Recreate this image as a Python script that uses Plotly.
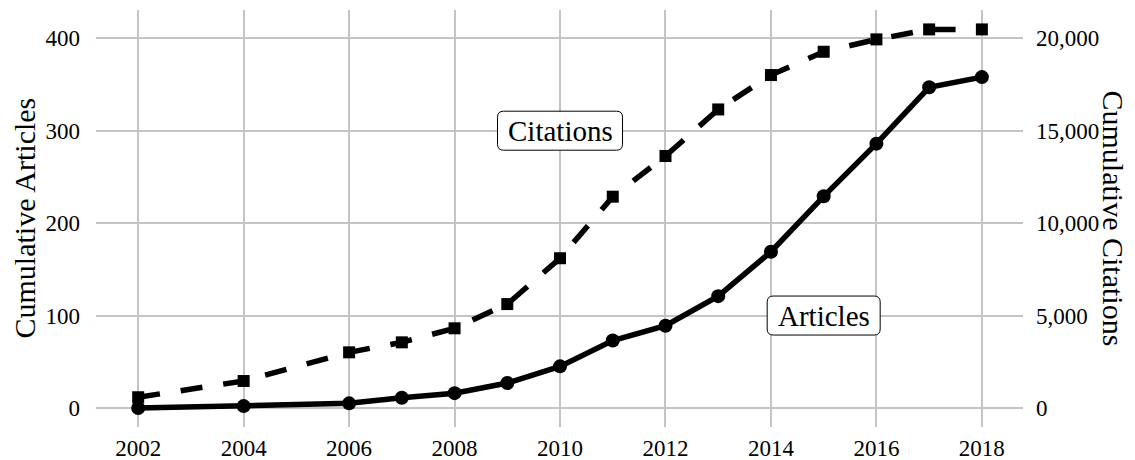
import plotly.graph_objects as go

years = [2002, 2004, 2006, 2007, 2008, 2009, 2010, 2011, 2012, 2013, 2014, 2015, 2016, 2017, 2018]
articles = [0, 2, 5, 11, 16, 27, 45, 73, 89, 121, 169, 229, 286, 347, 358]
citations = [580, 1460, 3010, 3550, 4310, 5620, 8100, 11430, 13630, 16150, 18010, 19270, 19940, 20480, 20480]

x_ticks = [2002, 2004, 2006, 2008, 2010, 2012, 2014, 2016, 2018]
left_ticks = [0, 100, 200, 300, 400]
right_ticks = [0, 5000, 10000, 15000, 20000]

FONT = "Liberation Serif, Times New Roman, serif"
GRID = "#c4c4c4"

fig = go.Figure()
fig.add_trace(go.Scatter(
    x=years, y=citations, yaxis="y2", mode="lines+markers", name="Citations",
    line=dict(color="black", width=5.5, dash="22px,21px"),
    marker=dict(symbol="square", size=12, color="black"),
))
fig.add_trace(go.Scatter(
    x=years, y=articles, yaxis="y", mode="lines+markers", name="Articles",
    line=dict(color="black", width=5.5),
    marker=dict(symbol="circle", size=14, color="black"),
))

left_range = [-20.6, 430.6]
right_range = [v * 50 for v in left_range]


def rounded_box(xc, yc, w, h, r, xref="x", yref="y"):
    hw, hh = w / 2, h / 2
    path = (f"M {-hw + r},{-hh} L {hw - r},{-hh} Q {hw},{-hh} {hw},{-hh + r} "
            f"L {hw},{hh - r} Q {hw},{hh} {hw - r},{hh} L {-hw + r},{hh} "
            f"Q {-hw},{hh} {-hw},{hh - r} L {-hw},{-hh + r} Q {-hw},{-hh} {-hw + r},{-hh} Z")
    return dict(type="path", path=path, xref=xref, yref=yref,
                xsizemode="pixel", ysizemode="pixel", xanchor=xc, yanchor=yc,
                line=dict(color="black", width=1), fillcolor="white", layer="above")


fig.update_layout(
    width=1135, height=460,
    margin=dict(l=96, r=112, t=10, b=33),
    paper_bgcolor="white", plot_bgcolor="white",
    showlegend=False,
    font=dict(family=FONT, size=23, color="black"),
    xaxis=dict(
        range=[2001.2, 2018.78], tickvals=x_ticks, ticktext=[str(t) for t in x_ticks],
        showgrid=True, gridcolor=GRID, gridwidth=1.5, zeroline=False,
        showline=False, ticks="", ticklabelstandoff=5, automargin=False,
    ),
    yaxis=dict(
        range=left_range, tickvals=left_ticks,
        showgrid=True, gridcolor=GRID, gridwidth=1.5, zeroline=False,
        showline=False, ticks="", ticklabelstandoff=15, automargin=False,
    ),
    yaxis2=dict(
        range=right_range, tickvals=right_ticks, tickformat=",d",
        overlaying="y", side="right", showgrid=False, zeroline=False,
        showline=False, ticks="", ticklabelstandoff=12, automargin=False,
    ),
    shapes=[
        rounded_box(2010, 300, 125, 39, 6),
        rounded_box(2015, 100, 113, 39, 6),
    ],
    annotations=[
        dict(x=2010, y=300, xref="x", yref="y", text="Citations", showarrow=False,
             font=dict(size=29)),
        dict(x=2015, y=100, xref="x", yref="y", text="Articles", showarrow=False,
             font=dict(size=29)),
        dict(x=0.0, y=0.5, xref="paper", yref="paper", xanchor="center", yanchor="middle",
             xshift=-72, text="Cumulative Articles", textangle=-90, showarrow=False,
             font=dict(size=30)),
        dict(x=1.0, y=0.5, xref="paper", yref="paper", xanchor="center", yanchor="middle",
             xshift=90, text="Cumulative Citations", textangle=90, showarrow=False,
             font=dict(size=30)),
    ],
)

fig.write_html("out.html", config={"displayModeBar": False},
               post_script="document.body.style.margin='0';")
